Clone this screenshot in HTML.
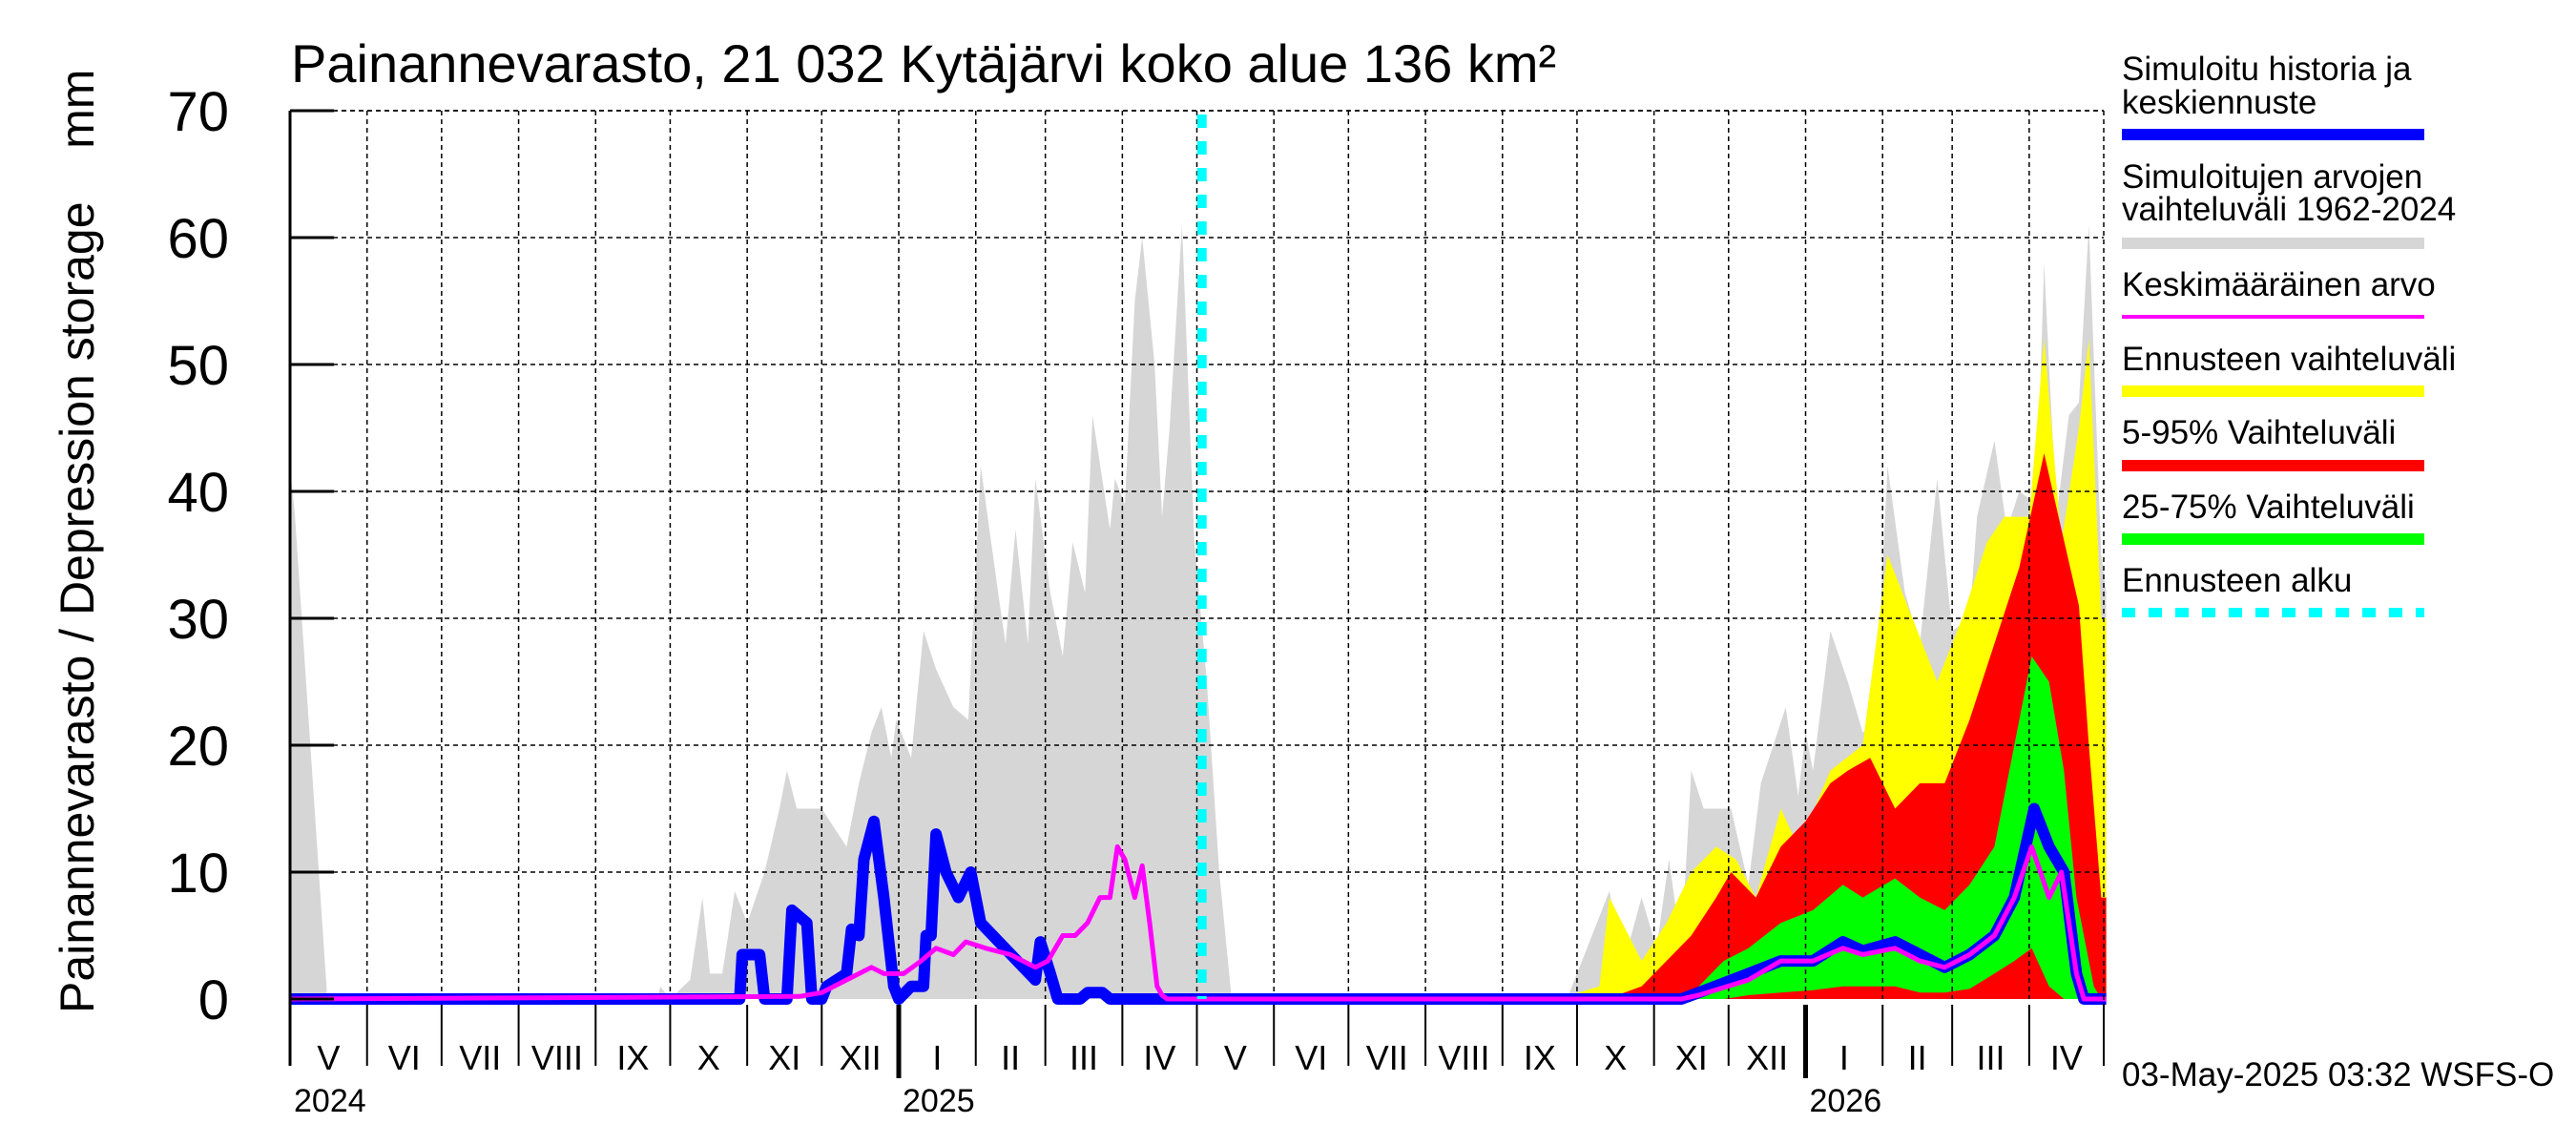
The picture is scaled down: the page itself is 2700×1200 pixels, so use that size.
<!DOCTYPE html>
<html><head><meta charset="utf-8"><style>
html,body{margin:0;padding:0;background:#fff;}
svg{display:block;font-family:"Liberation Sans",sans-serif;}
</style></head><body>
<svg id="chart" width="2700" height="1200" viewBox="0 0 2700 1200" xmlns="http://www.w3.org/2000/svg">
<g id="bands"></g>
<g id="grid"></g>
<g id="lines"></g>
<g id="axes"></g>
<text x="305" y="86" font-size="56">Painannevarasto, 21 032 Kytäjärvi koko alue 136 km²</text>
<text transform="translate(98,1062) rotate(-90)" font-size="50" xml:space="preserve">Painannevarasto / Depression storage    mm</text>
<g font-size="35">
<text x="2224" y="84">Simuloitu historia ja</text>
<text x="2224" y="119">keskiennuste</text>
<rect x="2224" y="135" width="317" height="12" fill="#0000ff"/>
<text x="2224" y="197">Simuloitujen arvojen</text>
<text x="2224" y="231">vaihteluväli 1962-2024</text>
<rect x="2224" y="249" width="317" height="12" fill="#d6d6d6"/>
<text x="2224" y="310">Keskimääräinen arvo</text>
<rect x="2224" y="330" width="317" height="4" fill="#ff00ff"/>
<text x="2224" y="388">Ennusteen vaihteluväli</text>
<rect x="2224" y="404" width="317" height="12" fill="#ffff00"/>
<text x="2224" y="465">5-95% Vaihteluväli</text>
<rect x="2224" y="482" width="317" height="12" fill="#ff0000"/>
<text x="2224" y="543">25-75% Vaihteluväli</text>
<rect x="2224" y="559" width="317" height="12" fill="#00ff00"/>
<text x="2224" y="620">Ennusteen alku</text>
<line x1="2224" y1="642" x2="2541" y2="642" stroke="#00ffff" stroke-width="10" stroke-dasharray="14,14"/>
</g>
<text x="2224" y="1138" font-size="35">03-May-2025 03:32 WSFS-O</text>
</svg>
<script>
// ---- data (days since 2024-05-01) ----
const histDays=[0,2,15,148,149,153,161,166,169,174,179,184,191,197,200,204,211,214,224,229,234,238,242,244,250,255,260,267,273,278,285,288,292,297,300,306,311,315,320,323,330,332,336,340,343,348,351,354,359,364,369,374,379,
514,531,537,544,550,555,560,564,569,574,580,587,592,597,602,607,610,613,620,627,633,638,643,650,656,663,669,676,679,686,691,696,703,706,711,716,720,724,729,731];
const histMax=[42,38,0,0,1,0,1.5,8,2,2,8.5,6,10,15,18,15,15,15,12,17,21,23,19,22,19,29,26,23,22,42,32,28,37,28,41,32,27,36,32,46,37,41,39,55,60,50,38,45,61,36,25,10,0,
0,8.5,3,8,4,11,4,18,15,15,15,9,17,20,23,16,21,18,29,25,21,22,42,32,28,41,29,30,38,44,37,40,39,58,38,46,47,61,35,32];
const yelDays=[510,527,531,544,554,564,574,582,590,600,607,620,633,643,653,663,673,683,690,700,706,713,720,724,729,731];
const yelHigh=[0,1,8,3,6,10,12,11,8,15,12,18,20,35,30,25,30,36,38,38,52,36,45,52,30,30];
const redDays=[530,544,554,564,574,580,590,600,610,620,627,636,646,656,666,676,686,696,706,713,720,724,729,731];
const redHigh=[0,1,3,5,8,10,8,12,14,17,18,19,15,17,17,22,28,34,43,37,31,20,8,8];
const grnDays=[560,567,577,587,600,613,625,633,646,656,666,676,686,694,701,708,714,719,726,729,731];
const grnHigh=[0,1,3,4,6,7,9,8,9.5,8,7,9,12,20,27,25,18,8,1,0,0];
const grnLow=[0,0,0,0.3,0.5,0.7,1,1,1,0.5,0.5,0.8,2,3,4,1,0,0,0,0,0];
const blueDays=[0,181,182,189,191,200,202,208,210,214,216,224,226,229,231,235,239,243,245,250,255,256,258,260,264,269,274,276,278,300,302,306,309,318,321,327,330,367,
560,567,587,600,613,625,633,646,656,666,676,686,694,702,708,714,719,722,731];
const blueVal=[0,0,3.5,3.5,0,0,7,6,0,0,1,2,5.5,5,11,14,8,1,0,1,1,5,5,13,10,8,10,8,6,1.5,4.5,2,0,0,0.5,0.5,0,0,
0,0.5,2,3,3,4.5,3.8,4.5,3.5,2.5,3.5,5,8,15,12,10,2,0,0];
const meanDays=[0,205,214,224,234,239,247,254,260,267,272,280,290,300,305,311,316,321,326,330,333,336,340,343,346,349,351,353,356,
560,567,587,600,613,625,633,646,656,666,676,686,694,701,708,713,719,722,731];
const meanVal=[0,0.2,0.5,1.5,2.5,2,2,3,4,3.5,4.5,4,3.5,2.5,3,5,5,6,8,8,12,11,8,10.5,6,1,0.3,0,0,
0,0.3,1.5,3,3,4,3.5,4,3,2.5,3.5,5,8,12,8,10,2,0,0];
const forecastDay=367;
const monthStarts=[0,31,61,92,123,153,184,214,245,276,304,335,365,396,426,457,488,518,549,579,610,641,669,700,730];
const monthLabels=["V","VI","VII","VIII","IX","X","XI","XII","I","II","III","IV","V","VI","VII","VIII","IX","X","XI","XII","I","II","III","IV"];
const yTicks=[0,10,20,30,40,50,60,70];
const yearLabels=["2024","2025","2026"];
const yearDays=[0,245,610];

// ---- axes ----
const X0=304,X1=2205,Y0=1047,Y70=116;
const xs=d=>X0+d*(X1-X0)/730;
const ys=v=>Y0-v*(Y0-Y70)/70;
const NS="http://www.w3.org/2000/svg";
function mk(tag,parent,attrs){const e=document.createElementNS(NS,tag);for(const k in attrs)e.setAttribute(k,attrs[k]);document.getElementById(parent).appendChild(e);return e;}
function band(days,hi,lo,color,name){
  let p=days.map((d,i)=>xs(d).toFixed(1)+","+ys(hi[i]).toFixed(1));
  for(let i=days.length-1;i>=0;i--)p.push(xs(days[i]).toFixed(1)+","+ys(lo?lo[i]:0).toFixed(1));
  const e=mk("polygon","bands",{points:p.join(" "),fill:color});
  
  
}
band(histDays,histMax,null,"#d6d6d6","historical-range-area");
band(yelDays,yelHigh,null,"#ffff00","forecast-range-area");
band(redDays,redHigh,null,"#ff0000","band-5-95");
band(grnDays,grnHigh,grnLow,"#00ff00","band-25-75");

// grid
yTicks.forEach(v=>{
  if(v>0){const g=mk("line","grid",{x1:X0,x2:X1,y1:ys(v),y2:ys(v),stroke:"#000","stroke-width":1.5,"stroke-dasharray":"5,4"});
  
  }
  const t=mk("line","axes",{x1:X0,x2:X0+46,y1:ys(v),y2:ys(v),stroke:"#000","stroke-width":3});
  
  
  const l=mk("text","axes",{x:240,y:ys(v)+21,"font-size":58,"text-anchor":"end"});
  l.textContent=v;
  
  
});
monthStarts.forEach((d,i)=>{
  if(d>0&&d<730){const g=mk("line","grid",{x1:xs(d),x2:xs(d),y1:Y70,y2:Y0,stroke:"#000","stroke-width":1.5,"stroke-dasharray":"5,4"});
  
  }
  const isJan=(d===245||d===610);
  const t=mk("line","axes",{x1:xs(d),x2:xs(d),y1:Y0+6,y2:isJan?1130:1117,stroke:"#000","stroke-width":isJan?5:2});
  
  
  if(i<monthLabels.length){
    const l=mk("text","axes",{x:(xs(d)+xs(monthStarts[i+1]))/2,y:1121,"font-size":36,"text-anchor":"middle"});
    l.textContent=monthLabels[i];
    
    
  }
});
yearLabels.forEach((y,i)=>{
  const l=mk("text","axes",{x:xs(yearDays[i])+4,y:1165,"font-size":34});
  l.textContent=y;
  
  
});
const topBorder=mk("line","axes",{x1:X0,x2:X1,y1:Y70,y2:Y70,stroke:"#000","stroke-width":1.5,"stroke-dasharray":"5,4"});


const rightBorder=mk("line","axes",{x1:X1,x2:X1,y1:Y70,y2:1117,stroke:"#000","stroke-width":1.5,"stroke-dasharray":"5,4"});


const yAxisLine=mk("line","axes",{x1:X0,x2:X0,y1:Y70,y2:1117,stroke:"#000","stroke-width":3});



// lines
const blueLine=mk("polyline","lines",{points:blueDays.map((d,i)=>xs(d).toFixed(1)+","+ys(blueVal[i]).toFixed(1)).join(" "),fill:"none",stroke:"#0000ff","stroke-width":12,"stroke-linejoin":"round"});


const meanLine=mk("polyline","lines",{points:meanDays.map((d,i)=>xs(d).toFixed(1)+","+ys(meanVal[i]).toFixed(1)).join(" "),fill:"none",stroke:"#ff00ff","stroke-width":5,"stroke-linejoin":"round"});


const fcLine=mk("line","lines",{x1:xs(forecastDay),x2:xs(forecastDay),y1:Y70+4,y2:Y0,stroke:"#00ffff","stroke-width":10,"stroke-dasharray":"14,14"});


</script>
</body></html>
